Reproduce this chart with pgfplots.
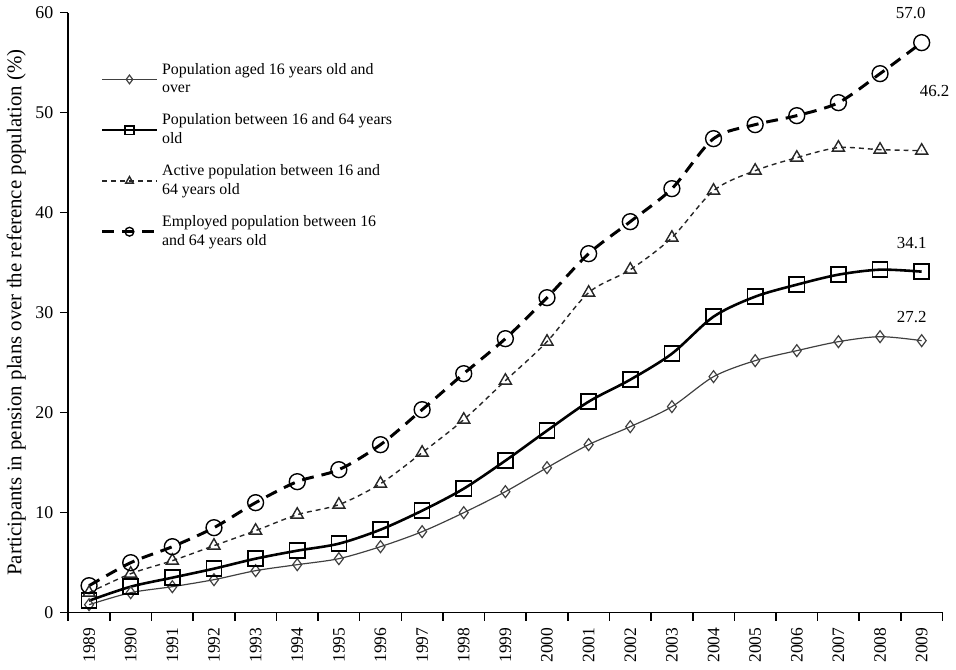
\documentclass[border=0pt]{standalone}
\usepackage{fontspec}
\setmainfont{Liberation Serif}
\usepackage{pgfplots}
\pgfplotsset{compat=1.18}
\begin{document}
\begin{tikzpicture}
\begin{axis}[
  scale only axis,
  width=440pt, height=302pt,
  xmin=-0.5, xmax=20.5,
  ymin=0, ymax=60,
  axis x line*=bottom, axis y line*=left,
  axis line style={line width=0.8pt},
  xtick={-0.5,0.5,...,20.5},
  x tick label as interval,
  xticklabels={1989,1990,1991,1992,1993,1994,1995,1996,1997,1998,1999,2000,2001,2002,2003,2004,2005,2006,2007,2008,2009},
  x tick label style={rotate=90, anchor=east, font=\fontsize{8.8}{10}\selectfont},
  ytick={0,10,...,60},
  y tick label style={font=\fontsize{9}{10}\selectfont},
  tick align=outside,
  major tick length=4pt,
  tick style={black, line width=0.8pt},
  /pgf/number format/assume math mode=true,
  ylabel={Participants in pension plans over the reference population (\%)},
  ylabel style={font=\fontsize{10.5}{12}\selectfont, yshift=-2pt},
  legend style={draw=none, fill=none, at={(0.03,0.93)}, anchor=north west,
    font=\fontsize{8}{9.5}\selectfont, cells={align=left, anchor=west}, row sep=5pt},
  legend image code/.code={\draw[mark repeat=2,mark phase=2,#1,mark size=2.2pt] plot coordinates {(0cm,0cm) (0.48cm,0cm) (0.96cm,0cm)};},
  clip=false,
]
\addplot[smooth, line width=0.6pt, color=black!75, mark=diamond, mark size=3pt, mark options={solid, line width=0.6pt}]
 coordinates {(0,0.8) (1,2.0) (2,2.6) (3,3.3) (4,4.2) (5,4.8) (6,5.4) (7,6.6) (8,8.1) (9,10.0) (10,12.1) (11,14.5) (12,16.8) (13,18.6) (14,20.6) (15,23.6) (16,25.2) (17,26.2) (18,27.1) (19,27.6) (20,27.2)};
\addlegendentry{Population aged 16 years old and\\over}
\addplot[smooth, line width=1.3pt, color=black, mark=square, mark size=3.8pt, mark options={solid, line width=0.8pt}]
 coordinates {(0,1.2) (1,2.6) (2,3.5) (3,4.4) (4,5.4) (5,6.2) (6,6.9) (7,8.3) (8,10.2) (9,12.4) (10,15.2) (11,18.2) (12,21.1) (13,23.3) (14,25.9) (15,29.6) (16,31.6) (17,32.8) (18,33.8) (19,34.3) (20,34.1)};
\addlegendentry{Population between 16 and 64 years\\old}
\addplot[smooth, line width=0.7pt, color=black!85, dash pattern=on 2.5pt off 2pt, mark=triangle, mark size=3.5pt, mark options={solid, line width=0.7pt}]
 coordinates {(0,2.0) (1,3.9) (2,5.2) (3,6.7) (4,8.2) (5,9.8) (6,10.8) (7,12.9) (8,16.0) (9,19.3) (10,23.2) (11,27.1) (12,32.0) (13,34.3) (14,37.5) (15,42.2) (16,44.2) (17,45.5) (18,46.5) (19,46.3) (20,46.2)};
\addlegendentry{Active population between 16 and\\64 years old}
\addplot[smooth, line width=1.5pt, color=black, dash pattern=on 6pt off 4pt, mark=o, mark size=4pt, mark options={solid, line width=0.7pt}]
 coordinates {(0,2.7) (1,5.0) (2,6.6) (3,8.5) (4,11.0) (5,13.1) (6,14.3) (7,16.8) (8,20.3) (9,23.9) (10,27.4) (11,31.5) (12,35.9) (13,39.1) (14,42.4) (15,47.4) (16,48.8) (17,49.7) (18,51.0) (19,53.9) (20,57.0)};
\addlegendentry{Employed population between 16\\and 64 years old}
\node[font=\fontsize{8.5}{10}\selectfont] at (axis cs:20,57.0) [xshift=-5.5pt, yshift=15pt] {57.0};
\node[font=\fontsize{8.5}{10}\selectfont] at (axis cs:20,46.2) [xshift=6.5pt, yshift=30pt] {46.2};
\node[font=\fontsize{8.5}{10}\selectfont] at (axis cs:20,34.1) [xshift=-5pt, yshift=14.5pt] {34.1};
\node[font=\fontsize{8.5}{10}\selectfont] at (axis cs:20,27.2) [xshift=-5pt, yshift=12pt] {27.2};
\end{axis}
\end{tikzpicture}
\end{document}
